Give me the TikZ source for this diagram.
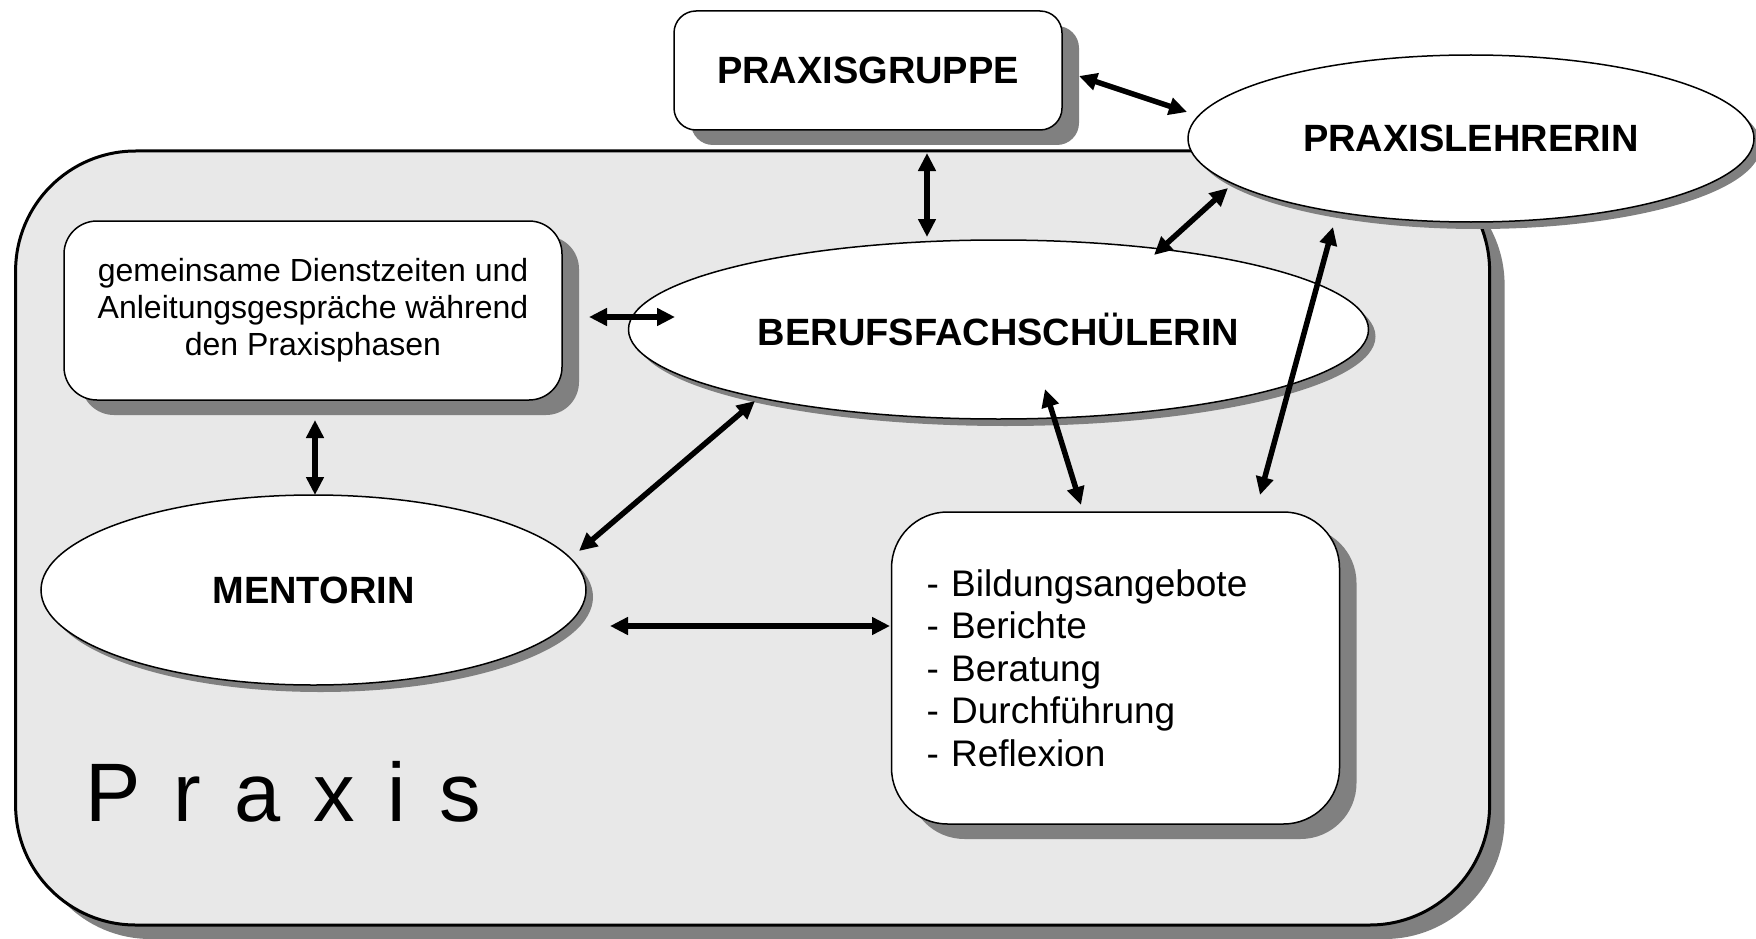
\documentclass[tikz,border=0pt]{standalone}
\usepackage{fontspec}
\setmainfont{Liberation Sans}
\usetikzlibrary{shadows,arrows.meta,shapes.geometric}
\definecolor{shadowgray}{HTML}{808080}
\definecolor{panelgray}{HTML}{E8E8E8}
\begin{document}
\begin{tikzpicture}[x=1pt,y=-1pt,
  boxshadow/.style={drop shadow={shadow xshift=17pt,shadow yshift=-15pt,fill=shadowgray,opacity=1}},
  ellshadow/.style={drop shadow={shadow xshift=7pt,shadow yshift=-7pt,fill=shadowgray,opacity=1}},
  rbox/.style={draw=black,line width=1.5pt,fill=white,rectangle,inner sep=0pt,boxshadow},
  ell/.style={draw=black,line width=1.5pt,fill=white,ellipse,inner sep=0pt,ellshadow},
  boldlabel/.style={font=\fontsize{38}{44}\selectfont\bfseries},
  twoway/.style={line width=5.5pt,{Triangle[length=18pt,width=17pt]}-{Triangle[length=18pt,width=17pt]}}
]
\useasboundingbox (0,0) rectangle (1756,939);

% big Praxis panel
\node[draw=black,line width=3pt,fill=panelgray,rectangle,rounded corners=120pt,inner sep=0pt,
      minimum width=1474pt,minimum height=774pt,
      drop shadow={shadow xshift=15pt,shadow yshift=-14pt,fill=shadowgray,opacity=1}]
      (panel) at (752.6,538) {};
\node[anchor=base west,font=\fontsize{83}{90}\selectfont,inner sep=0pt] (praxislabel) at (85,821)
  {P\hspace{33pt}r\hspace{33pt}a\hspace{33pt}x\hspace{33pt}i\hspace{33pt}s};

% nodes
\node[rbox,rounded corners=22pt,minimum width=388pt,minimum height=119pt,boldlabel]
  (grp) at (868,70.5) {PRAXISGRUPPE};
\node[ell,minimum width=566pt,minimum height=167pt,boldlabel]
  (lehr) at (1471,138.5) {PRAXISLEHRERIN};
\node[rbox,rounded corners=33pt,minimum width=498pt,minimum height=179pt,align=center,
      font=\fontsize{32}{37}\selectfont]
  (gem) at (313,310.5) {gemeinsame Dienstzeiten und\\Anleitungsgespräche während\\den Praxisphasen};
\node[ell,minimum width=740pt,minimum height=179pt,boldlabel]
  (beruf) at (998.5,329.5) {BERUFSFACHSCHÜLERIN};
\node[ell,minimum width=545pt,minimum height=190pt,boldlabel]
  (ment) at (313.5,590) {MENTORIN};
\node[rbox,rounded corners=56pt,minimum height=312pt,text width=378pt,inner xsep=35pt,align=left,
      font=\fontsize{37}{42.6}\selectfont]
  (bild) at (1115.5,668) {- Bildungsangebote\\- Berichte\\- Beratung\\- Durchführung\\- Reflexion};

% connector end points
\coordinate (a1s) at (1079,76);   \coordinate (a1e) at (1187,112);
\coordinate (a2s) at (927,153);   \coordinate (a2e) at (927,237);
\coordinate (a3s) at (1228,188);  \coordinate (a3e) at (1154,255);
\coordinate (a4s) at (589,317);   \coordinate (a4e) at (675,317);
\coordinate (a5s) at (315,420);   \coordinate (a5e) at (315,495);
\coordinate (a6s) at (755,401);   \coordinate (a6e) at (579,551);
\coordinate (a7s) at (1045,389);  \coordinate (a7e) at (1081,505);
\coordinate (a8s) at (1333,227);  \coordinate (a8e) at (1260,495);
\coordinate (a9s) at (610,626);   \coordinate (a9e) at (890,626);

\draw[twoway] (a1s) -- (a1e);
\draw[twoway] (a2s) -- (a2e);
\draw[twoway] (a3s) -- (a3e);
\draw[twoway] (a4s) -- (a4e);
\draw[twoway] (a5s) -- (a5e);
\draw[twoway] (a6s) -- (a6e);
\draw[twoway] (a7s) -- (a7e);
\draw[twoway] (a8s) -- (a8e);
\draw[twoway] (a9s) -- (a9e);
\end{tikzpicture}
\end{document}
